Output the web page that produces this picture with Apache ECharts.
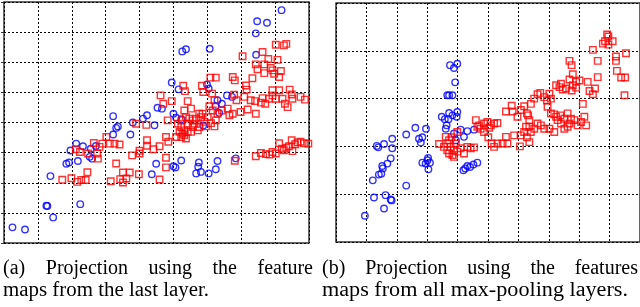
<!DOCTYPE html>
<html><head><meta charset="utf-8">
<script src="https://cdn.jsdelivr.net/npm/echarts@6/dist/echarts.min.js"></script>
<style>html,body{margin:0;padding:0;background:#fff}#c{width:640px;height:307px}</style>
</head><body><div id="c"></div>
<script>
// (a) last layer projection: class 1 (blue circles), class 2 (red squares)
const aBlue = [[0.25,0.52],[0.62,0.45],[1.25,1.24],[1.28,1.23],[1.45,0.85],[2.25,1.29],[1.37,2.22],[1.84,2.63],[1.92,2.67],[2.18,2.72],[1.96,3.07],[2.13,3.30],[2.33,3.21],[2.56,3.13],[2.53,2.86],[2.60,2.80],[2.71,3.22],[3.22,4.21],[3.36,3.87],[3.31,3.82],[3.22,3.60],[3.73,3.60],[3.80,4.00],[4.10,4.13],[4.22,4.24],[4.44,3.91],[4.53,4.49],[4.66,4.46],[4.49,2.63],[4.36,2.28],[4.95,5.33],[5.15,5.10],[5.00,4.29],[5.08,4.16],[5.23,4.11],[5.00,2.55],[5.06,2.51],[5.23,2.74],[5.26,6.36],[5.37,6.43],[6.07,6.45],[5.99,5.26],[6.04,5.13],[5.75,2.67],[5.73,2.53],[5.67,2.31],[5.81,2.36],[6.04,2.31],[6.25,2.45],[6.30,2.72],[5.88,3.90],[6.30,4.74],[6.24,4.55],[6.35,4.32],[6.43,4.62],[6.58,4.90],[6.73,4.85],[6.84,2.81],[7.43,6.96],[7.47,7.36],[7.76,7.31],[7.44,6.25],[8.19,7.73]];
const aRed = [[1.72,2.10],[1.99,2.15],[2.16,2.03],[2.28,2.09],[2.41,2.09],[2.46,2.35],[2.12,3.11],[2.24,3.02],[2.48,2.97],[2.65,3.32],[2.75,2.97],[2.77,2.80],[2.82,3.19],[2.90,3.30],[3.02,3.52],[3.12,3.30],[3.26,3.30],[3.41,3.27],[3.15,2.05],[3.43,2.12],[3.51,2.01],[3.61,2.14],[3.71,2.34],[3.51,2.34],[3.31,2.64],[3.78,2.91],[3.90,3.96],[4.00,3.06],[4.00,2.97],[3.98,2.28],[4.20,3.92],[4.22,3.41],[4.22,3.23],[4.41,3.11],[4.59,3.21],[4.59,2.11],[4.62,4.90],[4.70,4.62],[4.95,4.71],[4.83,4.07],[4.78,3.52],[4.85,3.36],[4.78,2.83],[4.78,2.51],[5.29,5.22],[5.34,5.04],[5.42,4.71],[5.32,4.40],[5.52,4.46],[5.13,3.96],[5.23,3.85],[5.32,3.74],[5.27,3.63],[5.23,3.52],[5.37,3.47],[5.42,3.69],[5.52,3.69],[5.57,3.85],[5.57,4.07],[5.47,4.13],[5.67,4.13],[5.76,4.29],[5.81,4.18],[5.86,4.29],[5.91,4.02],[5.96,3.87],[6.11,3.98],[6.21,3.87],[6.25,4.07],[6.30,4.29],[6.16,4.40],[6.06,4.54],[6.01,4.18],[5.76,3.85],[5.72,3.74],[5.62,3.96],[5.08,3.52],[5.18,3.69],[5.25,4.07],[5.37,4.18],[5.32,3.58],[5.42,3.96],[5.84,5.22],[6.09,5.49],[6.25,5.49],[5.88,5.01],[6.14,4.96],[6.21,4.74],[6.43,4.40],[6.60,4.46],[6.65,4.24],[6.75,4.29],[6.75,5.51],[6.81,5.40],[6.79,4.92],[6.86,4.74],[6.98,4.35],[7.09,4.85],[7.14,5.23],[7.16,5.09],[7.19,4.43],[7.28,4.74],[7.41,4.71],[7.43,4.29],[7.33,5.47],[7.58,4.66],[7.63,4.81],[7.71,4.62],[7.82,4.79],[7.92,5.07],[8.02,4.79],[8.12,5.07],[8.22,4.79],[8.29,4.62],[8.37,4.51],[8.43,5.09],[8.49,4.93],[8.51,4.79],[8.75,4.85],[8.88,4.76],[7.92,4.90],[7.04,6.20],[7.43,5.93],[7.48,5.77],[7.63,6.34],[7.68,5.93],[7.68,5.64],[7.80,6.11],[7.92,5.73],[7.97,5.62],[8.07,6.08],[8.12,5.51],[8.02,6.58],[8.26,6.56],[8.33,6.61],[7.87,5.81],[8.17,5.71],[6.81,2.73],[7.43,2.88],[7.58,2.99],[7.73,2.95],[7.84,2.94],[7.92,3.02],[8.02,2.97],[8.12,3.31],[8.20,3.13],[8.26,3.08],[8.33,3.16],[8.41,3.21],[8.49,3.41],[8.51,3.05],[8.59,3.28],[8.66,3.34],[8.75,3.36],[8.85,3.31],[8.98,3.30]];
// (b) all max-pooling layers projection
const bBlue = [[0.95,0.55],[1.25,0.93],[1.58,0.70],[1.63,0.98],[1.80,0.89],[1.83,0.87],[1.21,1.29],[1.41,1.41],[1.49,1.43],[1.54,1.54],[1.52,1.59],[1.69,1.64],[1.80,1.75],[1.34,2.01],[1.39,1.98],[1.58,2.05],[1.85,2.16],[1.85,1.96],[2.31,2.25],[2.31,1.18],[2.61,2.39],[2.73,2.16],[2.79,2.08],[2.84,2.19],[2.96,2.37],[2.84,1.66],[2.95,1.64],[3.03,1.76],[3.09,1.66],[3.01,1.71],[3.04,1.52],[3.48,2.62],[3.58,2.57],[3.64,2.44],[3.70,2.57],[3.72,2.70],[3.83,2.65],[3.99,2.72],[3.97,2.62],[3.66,3.07],[3.72,3.07],[3.83,3.07],[3.75,3.70],[3.88,3.64],[3.99,3.73],[3.92,3.34],[3.88,2.27],[4.10,2.35],[4.21,2.20],[4.32,2.32],[4.54,2.35],[4.19,1.50],[4.25,1.54],[4.32,1.59],[4.41,1.57],[4.52,1.62],[4.65,1.66],[3.61,2.37],[3.94,2.13]];
const bRed = [[3.39,2.05],[3.55,1.99],[3.61,2.20],[3.66,1.92],[3.72,1.85],[3.77,1.99],[3.83,1.82],[3.88,1.92],[3.94,2.06],[3.99,1.89],[3.66,2.06],[3.80,2.19],[3.99,2.30],[4.10,1.96],[4.21,1.85],[4.32,1.99],[4.43,1.96],[4.54,1.98],[3.88,1.78],[3.72,2.13],[4.60,2.55],[4.71,2.44],[4.76,2.37],[4.87,2.48],[4.98,2.51],[5.09,2.44],[5.20,2.48],[5.31,2.49],[4.87,2.30],[5.04,2.39],[4.65,2.41],[5.01,2.19],[5.12,2.06],[5.20,1.99],[5.31,2.06],[5.48,2.06],[5.59,2.20],[5.64,2.06],[5.86,2.23],[6.05,2.00],[6.36,2.09],[6.28,2.19],[6.19,2.30],[5.59,2.73],[5.78,2.85],[5.81,2.73],[5.97,2.62],[6.08,2.76],[6.19,2.84],[6.28,2.69],[6.36,2.55],[6.32,2.65],[6.41,2.89],[6.52,3.00],[6.63,3.09],[6.72,3.12],[6.85,3.03],[6.94,2.96],[7.02,3.10],[7.07,3.00],[6.96,2.83],[7.07,2.69],[7.18,2.67],[7.24,2.62],[7.29,2.55],[7.38,2.65],[7.40,2.48],[7.51,2.58],[7.62,2.69],[7.68,2.48],[7.73,2.58],[7.84,2.55],[7.95,2.44],[8.06,2.51],[8.17,2.62],[8.23,2.44],[7.62,2.41],[7.51,2.37],[7.18,2.30],[7.02,2.37],[6.85,2.37],[6.74,2.44],[6.63,2.48],[6.52,2.37],[6.36,2.41],[6.25,2.41],[6.08,2.23],[6.41,2.30],[7.24,3.28],[7.35,3.24],[7.40,3.31],[7.46,3.19],[7.57,3.21],[7.68,3.40],[7.75,3.17],[7.79,3.28],[7.90,3.35],[7.90,3.23],[8.01,3.38],[8.12,2.89],[8.28,3.35],[8.34,3.16],[8.45,3.09],[8.52,3.21],[8.61,3.45],[7.68,3.79],[7.75,3.70],[7.79,3.51],[8.45,4.02],[8.61,3.79],[8.78,4.15],[8.85,4.20],[8.92,4.34],[8.96,4.13],[9.10,4.20],[9.21,3.88],[9.21,3.79],[9.24,3.58],[9.38,3.44],[9.51,3.44],[9.49,3.07],[9.54,3.95],[8.96,4.30]];
// captions
const capA = ["(a) Projection using the feature", "maps from the last layer."];
const capB = ["(b) Projection using the features", "maps from all max-pooling layers."];

const chart = echarts.init(document.getElementById('c'), null, {renderer:'canvas'});
function xAx(idx,max){return {type:'value',gridIndex:idx,min:0,max:max,interval:1,axisLabel:{show:false},axisTick:{show:false},axisLine:{show:false},splitLine:{show:true,lineStyle:{color:'#000',width:1,type:[2,2]}}};}
function yAx(idx,max,tick){return {type:'value',gridIndex:idx,min:0,max:max,interval:1,axisLabel:{show:false},axisTick:{show:tick,length:3,lineStyle:{color:'#333'}},axisLine:{show:false},splitLine:{show:true,lineStyle:{color:'#000',width:1,type:[2,2]}}};}
function sc(data,idx,sym,col){return {type:'scatter',xAxisIndex:idx,yAxisIndex:idx,data:data,symbol:sym,symbolSize:sym==='rect'?6.5:6.5,itemStyle:{color:'rgba(255,255,255,0)',borderColor:col,borderWidth:1.4},silent:true,animation:false};}

const FS = 20, FONT = FS + 'px "Liberation Serif"';
const ctx = document.createElement('canvas').getContext('2d');
ctx.font = FONT;
const sty = {fontFamily:'Liberation Serif',fontSize:FS,fill:'#000'};
const gfx = [];
function justify(line, x0, x1, top){
  const ws = line.split(' ');
  const widths = ws.map(w=>ctx.measureText(w).width);
  const total = widths.reduce((a,b)=>a+b,0);
  const gap = (x1-x0-total)/(ws.length-1);
  let x = x0;
  ws.forEach((w,i)=>{gfx.push({type:'text',x:x,y:top,style:Object.assign({text:w},sty)}); x += widths[i]+gap;});
}
function plain(line, x0, x1, top){
  const w = ctx.measureText(line).width;
  gfx.push({type:'text',x:x0,y:top,scaleX:(x1-x0)/w,style:Object.assign({text:line},sty)});
}
justify(capA[0],3,313,259);
plain(capA[1],3,209,281);
justify(capB[0],322,638,259);
plain(capB[1],322,628,281);
chart.setOption({
  animation:false,
  grid:[{left:4,top:2,width:305,height:241,show:true,borderColor:'#333',borderWidth:1.5,backgroundColor:'#fff'},
        {left:336,top:3,width:304,height:239,show:true,borderColor:'#333',borderWidth:1.5,backgroundColor:'#fff'}],
  xAxis:[xAx(0,9),xAx(1,10)],
  yAxis:[yAx(0,8,true),yAx(1,5,false)],
  series:[sc(aBlue,0,'circle','#0000ff'),sc(aRed,0,'rect','#ff0000'),sc(bBlue,1,'circle','#0000ff'),sc(bRed,1,'rect','#ff0000')],
  graphic:gfx
});
</script></body></html>
